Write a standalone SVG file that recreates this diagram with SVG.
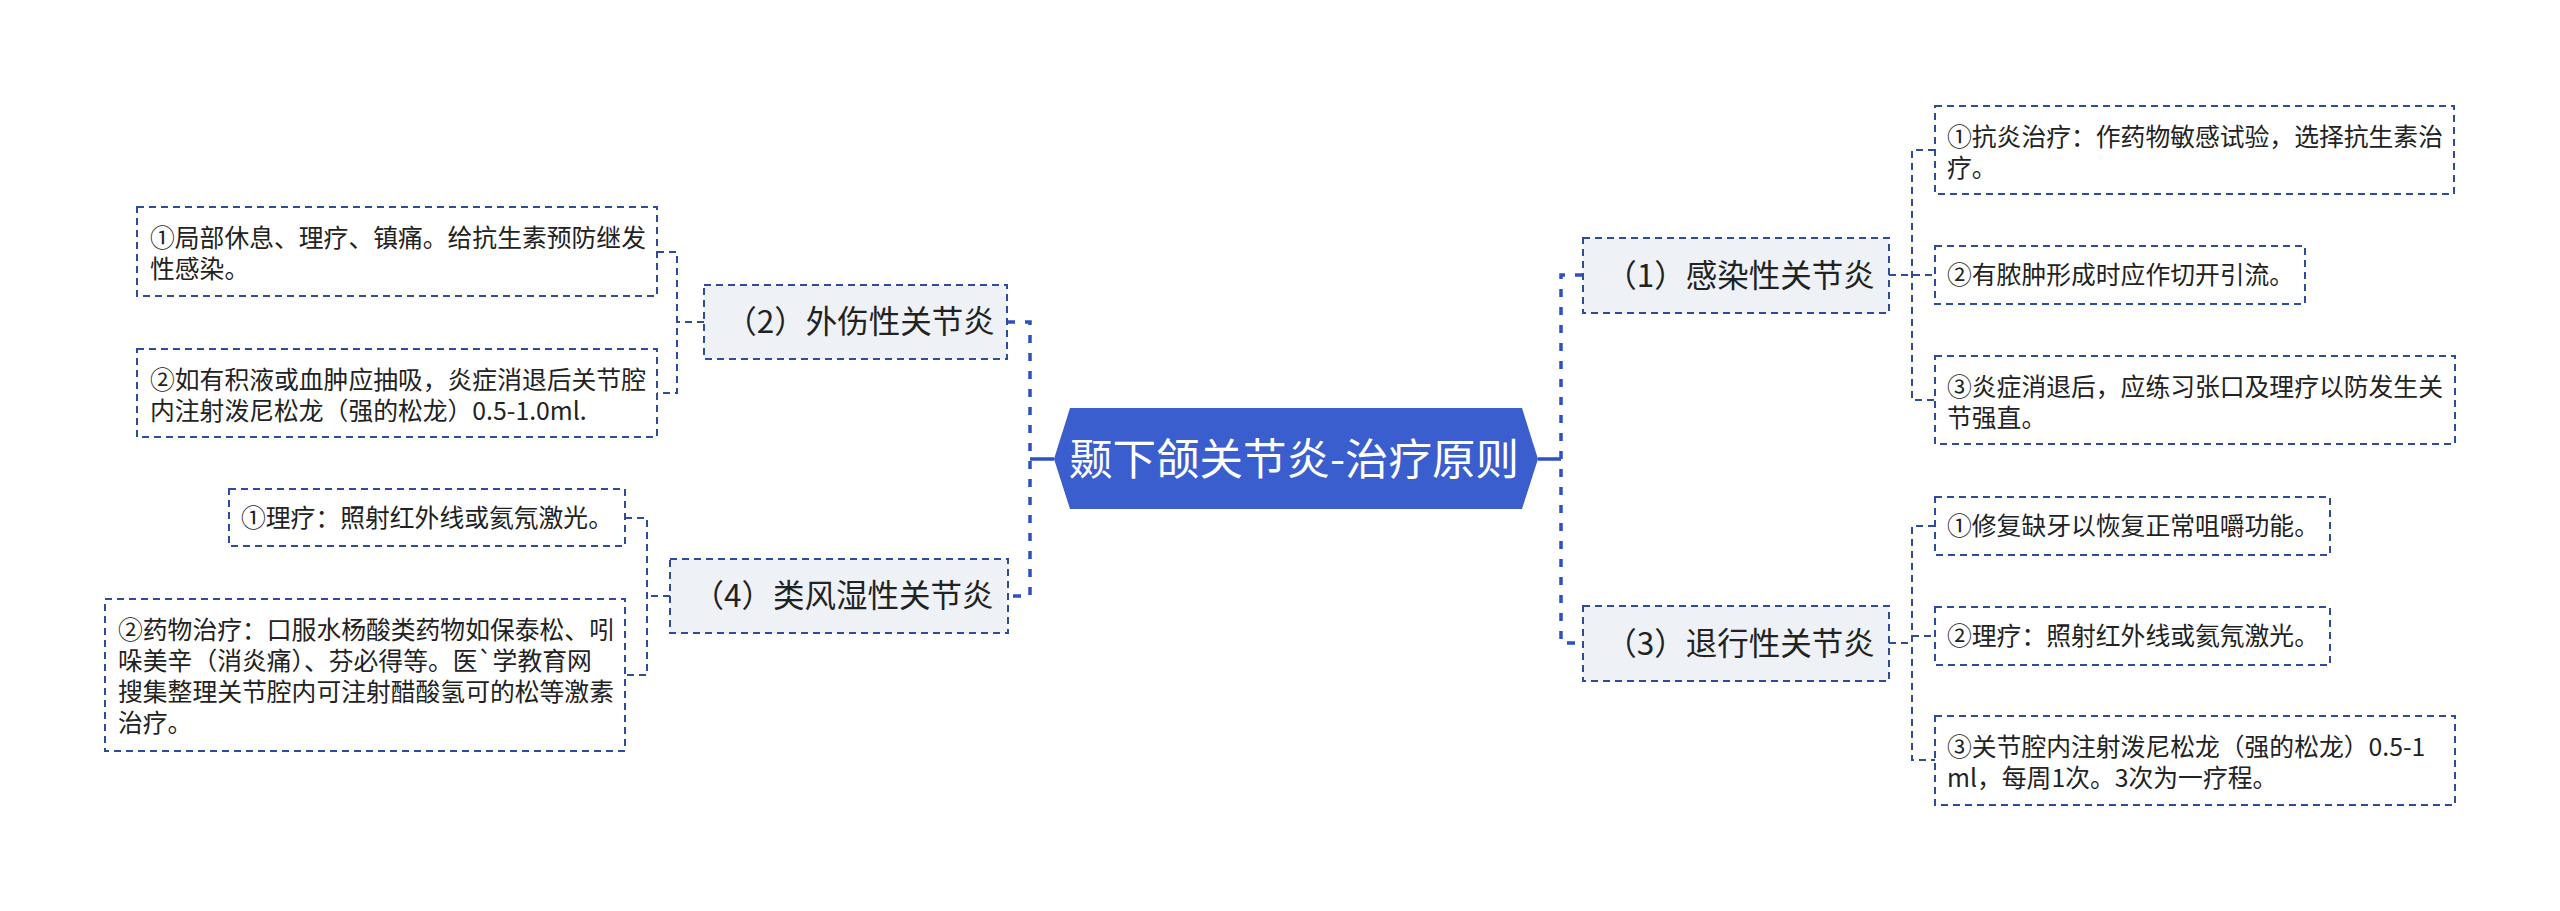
<svg xmlns="http://www.w3.org/2000/svg" width="2560" height="911" viewBox="0 0 2560 911">
<style>
.root-shape{fill:#3A5ECD;}
.root-text{fill:#FFFFFF;font-family:"Noto Sans CJK SC","Noto Sans",sans-serif;font-size:43.5px;text-anchor:middle;}
.branch{fill:#EEF1F5;stroke:#2D4C9E;stroke-width:2;stroke-dasharray:7 5;}
.leaf{fill:#FFFFFF;stroke:#2D4C9E;stroke-width:2;stroke-dasharray:7 5;}
.branch-text{fill:#222222;font-family:"Noto Sans CJK SC","Noto Sans",sans-serif;font-size:31.5px;text-anchor:middle;}
.leaf-text{fill:#222222;font-family:"Noto Sans CJK SC","Noto Sans",sans-serif;font-size:24.8px;}
.c-main{fill:none;stroke:#2F50C3;stroke-width:3.5;stroke-dasharray:8 10;}
.c-solid{fill:none;stroke:#2F50C3;stroke-width:3.5;}
.c-sub{fill:none;stroke:#2D4C9E;stroke-width:2;stroke-dasharray:7 5;}
</style>
<rect width="2560" height="911" fill="#FFFFFF"/>
<g id="connectors">
  <path class="c-solid" d="M1054,459 H1030"/>
  <path class="c-main" d="M1007,322 H1030 V596 H1008"/>
  <path class="c-solid" d="M1538,459 H1561"/>
  <path class="c-main" d="M1583,275 H1561 V643 H1583"/>
  <path class="c-sub" d="M1889,275 H1935"/>
  <path class="c-sub" d="M1935,150 H1912 V400 H1935"/>
  <path class="c-sub" d="M1889,643 H1912"/>
  <path class="c-sub" d="M1935,526 H1912 V760 H1935"/>
  <path class="c-sub" d="M1912,636 H1935"/>
  <path class="c-sub" d="M704,322 H677"/>
  <path class="c-sub" d="M657,252 H677 V393 H657"/>
  <path class="c-sub" d="M670,596 H647"/>
  <path class="c-sub" d="M625,518 H647 V675 H625"/>
</g>
<g id="root">
  <polygon class="root-shape" points="1054,459 1070,408 1522,408 1538,459 1522,509 1070,509"/>
  <text class="root-text" x="1294" y="475">颞下颌关节炎-治疗原则</text>
</g>
<g id="n1">
  <rect class="branch" x="1583" y="238" width="306" height="75"/>
  <text class="branch-text" x="1740" y="287">（1）感染性关节炎</text>
</g>
<g id="n1a">
  <rect class="leaf" x="1935" y="106" width="519" height="88"/>
  <text class="leaf-text" x="1947"><tspan x="1947" y="145.5">①抗炎治疗：作药物敏感试验，选择抗生素治</tspan><tspan x="1947" y="176.5">疗。</tspan></text>
</g>
<g id="n1b">
  <rect class="leaf" x="1935" y="246" width="370" height="58"/>
  <text class="leaf-text" x="1947" y="284">②有脓肿形成时应作切开引流。</text>
</g>
<g id="n1c">
  <rect class="leaf" x="1935" y="356" width="520" height="88"/>
  <text class="leaf-text" x="1947"><tspan x="1947" y="395.5">③炎症消退后，应练习张口及理疗以防发生关</tspan><tspan x="1947" y="426.5">节强直。</tspan></text>
</g>
<g id="n3">
  <rect class="branch" x="1583" y="606" width="306" height="75"/>
  <text class="branch-text" x="1740" y="655">（3）退行性关节炎</text>
</g>
<g id="n3a">
  <rect class="leaf" x="1935" y="497" width="395" height="58"/>
  <text class="leaf-text" x="1947" y="535">①修复缺牙以恢复正常咀嚼功能。</text>
</g>
<g id="n3b">
  <rect class="leaf" x="1935" y="607" width="395" height="58"/>
  <text class="leaf-text" x="1947" y="645">②理疗：照射红外线或氦氖激光。</text>
</g>
<g id="n3c">
  <rect class="leaf" x="1935" y="716" width="520" height="89"/>
  <text class="leaf-text" x="1947"><tspan x="1947" y="755.5">③关节腔内注射泼尼松龙（强的松龙）0.5-1</tspan><tspan x="1947" y="786.5">ml，每周1次。3次为一疗程。</tspan></text>
</g>
<g id="n2">
  <rect class="branch" x="704" y="285" width="303" height="74"/>
  <text class="branch-text" x="860" y="333">（2）外伤性关节炎</text>
</g>
<g id="n2a">
  <rect class="leaf" x="137" y="207" width="520" height="89"/>
  <text class="leaf-text" x="150"><tspan x="150" y="246.5">①局部休息、理疗、镇痛。给抗生素预防继发</tspan><tspan x="150" y="277.5">性感染。</tspan></text>
</g>
<g id="n2b">
  <rect class="leaf" x="137" y="349" width="520" height="88"/>
  <text class="leaf-text" x="150"><tspan x="150" y="388.5">②如有积液或血肿应抽吸，炎症消退后关节腔</tspan><tspan x="150" y="419.5">内注射泼尼松龙（强的松龙）0.5-1.0ml.</tspan></text>
</g>
<g id="n4">
  <rect class="branch" x="670" y="559" width="338" height="74"/>
  <text class="branch-text" x="843" y="607">（4）类风湿性关节炎</text>
</g>
<g id="n4a">
  <rect class="leaf" x="229" y="489" width="396" height="57"/>
  <text class="leaf-text" x="241" y="527">①理疗：照射红外线或氦氖激光。</text>
</g>
<g id="n4b">
  <rect class="leaf" x="105" y="599" width="520" height="152"/>
  <text class="leaf-text" x="118"><tspan x="118" y="638.5">②药物治疗：口服水杨酸类药物如保泰松、吲</tspan><tspan x="118" y="669.5">哚美辛（消炎痛）、芬必得等。医`学教育网</tspan><tspan x="118" y="700.5">搜集整理关节腔内可注射醋酸氢可的松等激素</tspan><tspan x="118" y="731.5">治疗。</tspan></text>
</g>
</svg>
